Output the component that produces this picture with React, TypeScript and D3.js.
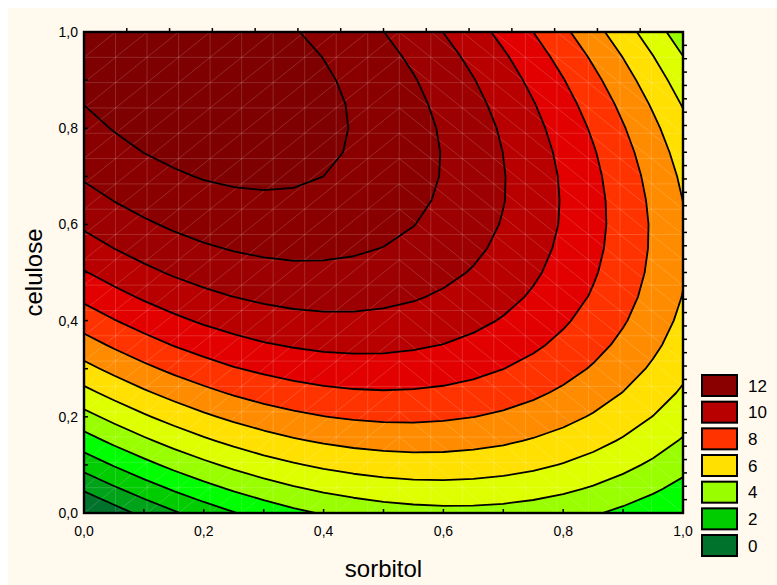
import React from "react";
import * as d3 from "d3";

// grid coordinates (sorbitol along x, celulose along y)
const sorbitol = [0, 0.05, 0.1, 0.15, 0.2, 0.25, 0.3, 0.35, 0.4, 0.45, 0.5, 0.55, 0.6, 0.65, 0.7, 0.75, 0.8, 0.85, 0.9, 0.95, 1];
const celulose = [0, 0.05, 0.1, 0.15, 0.2, 0.25, 0.3, 0.35, 0.4, 0.45, 0.5, 0.55, 0.6, 0.65, 0.7, 0.75, 0.8, 0.85, 0.9, 0.95, 1];

// response values, one row per celulose value (bottom row first)
const response: number[][] = [
  [-1.19, -0.44, 0.26, 0.88, 1.45, 1.95, 2.39, 2.77, 3.09, 3.34, 3.53, 3.65, 3.72, 3.72, 3.66, 3.53, 3.35, 3.10, 2.78, 2.41, 1.97],
  [0.13, 0.85, 1.51, 2.11, 2.65, 3.12, 3.53, 3.88, 4.16, 4.38, 4.54, 4.64, 4.67, 4.64, 4.55, 4.40, 4.18, 3.90, 3.56, 3.15, 2.68],
  [1.38, 2.07, 2.70, 3.27, 3.77, 4.22, 4.60, 4.91, 5.17, 5.36, 5.49, 5.56, 5.56, 5.50, 5.38, 5.20, 4.95, 4.64, 4.26, 3.83, 3.33],
  [2.56, 3.22, 3.82, 4.36, 4.84, 5.25, 5.60, 5.89, 6.11, 6.27, 6.37, 6.41, 6.38, 6.29, 6.14, 5.92, 5.65, 5.31, 4.90, 4.44, 3.91],
  [3.67, 4.30, 4.87, 5.38, 5.83, 6.21, 6.53, 6.79, 6.98, 7.11, 7.18, 7.19, 7.13, 7.01, 6.83, 6.59, 6.28, 5.91, 5.48, 4.98, 4.42],
  [4.72, 5.32, 5.86, 6.34, 6.75, 7.11, 7.40, 7.62, 7.79, 7.89, 7.93, 7.90, 7.82, 7.67, 7.46, 7.18, 6.84, 6.44, 5.98, 5.45, 4.87],
  [5.70, 6.27, 6.78, 7.23, 7.61, 7.94, 8.19, 8.39, 8.53, 8.60, 8.61, 8.55, 8.44, 8.26, 8.01, 7.71, 7.34, 6.91, 6.42, 5.86, 5.24],
  [6.61, 7.15, 7.63, 8.05, 8.40, 8.70, 8.93, 9.09, 9.20, 9.24, 9.22, 9.13, 8.99, 8.78, 8.50, 8.17, 7.77, 7.31, 6.79, 6.20, 5.55],
  [7.45, 7.96, 8.41, 8.80, 9.13, 9.39, 9.59, 9.73, 9.80, 9.81, 9.76, 9.65, 9.47, 9.23, 8.93, 8.56, 8.13, 7.64, 7.09, 6.47, 5.79],
  [8.23, 8.71, 9.13, 9.49, 9.78, 10.01, 10.18, 10.29, 10.34, 10.32, 10.23, 10.09, 9.88, 9.61, 9.28, 8.89, 8.43, 7.91, 7.32, 6.68, 5.97],
  [8.94, 9.39, 9.78, 10.11, 10.37, 10.57, 10.71, 10.79, 10.80, 10.75, 10.64, 10.47, 10.23, 9.93, 9.57, 9.14, 8.66, 8.10, 7.49, 6.81, 6.08],
  [9.58, 10.00, 10.36, 10.66, 10.89, 11.06, 11.17, 11.22, 11.20, 11.12, 10.98, 10.78, 10.51, 10.18, 9.79, 9.33, 8.81, 8.23, 7.59, 6.88, 6.11],
  [10.15, 10.54, 10.87, 11.14, 11.35, 11.49, 11.57, 11.58, 11.54, 11.43, 11.26, 11.02, 10.72, 10.36, 9.94, 9.46, 8.91, 8.30, 7.62, 6.89, 6.09],
  [10.66, 11.02, 11.32, 11.56, 11.73, 11.84, 11.89, 11.88, 11.80, 11.66, 11.46, 11.20, 10.87, 10.48, 10.03, 9.51, 8.93, 8.29, 7.59, 6.82, 5.99],
  [11.10, 11.43, 11.70, 11.90, 12.05, 12.13, 12.15, 12.11, 12.00, 11.83, 11.60, 11.30, 10.95, 10.53, 10.04, 9.50, 8.89, 8.22, 7.48, 6.69, 5.83],
  [11.47, 11.77, 12.01, 12.19, 12.30, 12.35, 12.34, 12.27, 12.13, 11.93, 11.67, 11.34, 10.96, 10.51, 9.99, 9.42, 8.78, 8.08, 7.31, 6.49, 5.60],
  [11.77, 12.04, 12.25, 12.40, 12.48, 12.51, 12.46, 12.36, 12.19, 11.96, 11.67, 11.32, 10.90, 10.42, 9.88, 9.27, 8.60, 7.87, 7.07, 6.22, 5.30],
  [12.01, 12.25, 12.43, 12.55, 12.60, 12.59, 12.52, 12.39, 12.19, 11.93, 11.61, 11.22, 10.77, 10.26, 9.69, 9.05, 8.36, 7.59, 6.77, 5.88, 4.93],
  [12.18, 12.39, 12.54, 12.62, 12.65, 12.61, 12.51, 12.34, 12.12, 11.83, 11.47, 11.06, 10.58, 10.04, 9.44, 8.77, 8.04, 7.25, 6.40, 5.48, 4.50],
  [12.28, 12.46, 12.58, 12.63, 12.63, 12.56, 12.43, 12.23, 11.98, 11.66, 11.27, 10.83, 10.32, 9.75, 9.12, 8.42, 7.66, 6.84, 5.96, 5.01, 4.00],
  [12.31, 12.46, 12.55, 12.58, 12.54, 12.44, 12.28, 12.06, 11.77, 11.42, 11.01, 10.53, 9.99, 9.39, 8.73, 8.00, 7.21, 6.36, 5.45, 4.47, 3.43],
];

const contourLevels = [0, 1, 2, 3, 4, 5, 6, 7, 8, 9, 10, 11, 12];
const legendValues = [12, 10, 8, 6, 4, 2, 0];
const axisTicks = [0, 0.2, 0.4, 0.6, 0.8, 1];
const axisTickLabels = ["0,0", "0,2", "0,4", "0,6", "0,8", "1,0"];
const minorTicks = [0.1, 0.2, 0.3, 0.4, 0.5, 0.6, 0.7, 0.8, 0.9];

// colour of each band: below level 0, between consecutive levels, above level 12
const bandColors = [
  "#00722C", "#00A21A", "#00CC00", "#00FF00", "#99FF00", "#DDFF00", "#FFE000",
  "#FF8C00", "#FF3300", "#E20000", "#B80000", "#9C0000", "#8A0000", "#7E0000",
];

const W = 777;
const H = 585;
const PL = 84, PR = 683, PT = 32, PB = 513;
const FONT = "'Liberation Sans', Arial, sans-serif";

export default function App() {
  const xs = d3.scaleLinear().domain([0, 1]).range([PL, PR]);
  const ys = d3.scaleLinear().domain([0, 1]).range([PB, PT]);
  const nx = sorbitol.length;
  const ny = celulose.length;
  // d3.contours places sample k at grid coordinate k + 0.5
  const gx = d3.scaleLinear().domain([0.5, nx - 0.5]).range([sorbitol[0], sorbitol[nx - 1]]);
  const gy = d3.scaleLinear().domain([0.5, ny - 0.5]).range([celulose[0], celulose[ny - 1]]);

  const flat = response.flat();
  const contours = d3.contours().size([nx, ny]).thresholds(contourLevels)(flat);
  const proj = d3.geoTransform({
    point(x: number, y: number) {
      (this as any).stream.point(xs(gx(x)), ys(gy(y)));
    },
  });
  const path = d3.geoPath(proj as any);

  // faint mesh seams of the surface rendering (19 x 19 cells)
  const meshN = 19;
  const mx = d3.scaleLinear().domain([0, meshN]).range([PL, PR]);
  const my = d3.scaleLinear().domain([0, meshN]).range([PT, PB]);
  let mesh = "";
  for (let k = 1; k < meshN; k++) {
    mesh += `M${mx(k)},${PT}V${PB}M${PL},${my(k)}H${PR}`;
  }
  for (let i = 0; i < meshN; i++) {
    for (let j = 0; j < meshN; j++) {
      if (i < 10) mesh += `M${mx(i)},${my(j + 1)}L${mx(i + 1)},${my(j)}`;
      else mesh += `M${mx(i)},${my(j)}L${mx(i + 1)},${my(j + 1)}`;
    }
  }

  const topTick = d3.scaleLinear().domain([0, 14]).range([PL, PR]);
  const rightTick = d3.scaleLinear().domain([0, 36]).range([PT, PB]);

  const legendY = d3.scaleLinear().domain([0, 1]).range([375, 375 + 26.67]);

  return (
    <svg
      width={W}
      height={H}
      style={{ position: "absolute", left: 0, top: 0, display: "block" }}
      fontFamily={FONT}
    >
      <rect x={0} y={0} width={W} height={H} fill="#ffffff" />
      <rect x={8} y={8} width={W - 8} height={H - 8} fill="#FFF9EE" />
      <defs>
        <clipPath id="plotClip">
          <rect x={PL} y={PT} width={PR - PL} height={PB - PT} />
        </clipPath>
      </defs>
      <g clipPath="url(#plotClip)">
        <rect x={PL} y={PT} width={PR - PL} height={PB - PT} fill={bandColors[0]} />
        {contours.map((c, k) => (
          <path key={"f" + k} d={path(c as any) || ""} fill={bandColors[k + 1]} stroke={bandColors[k + 1]} strokeWidth={0.5} />
        ))}
        <path d={mesh} stroke="#ffffff" strokeOpacity={0.18} strokeWidth={0.9} fill="none" />
        {contours.map((c, k) => (
          <path key={"l" + k} d={path(c as any) || ""} fill="none" stroke="#000" strokeWidth={1.8} strokeLinejoin="round" />
        ))}
      </g>
      {/* ticks */}
      <g stroke="#000" strokeWidth={1.5}>
        {minorTicks.map((v) => (
          <line key={"lt" + v} x1={PL} x2={PL + 4} y1={ys(v)} y2={ys(v)} />
        ))}
        {minorTicks.map((v) => (
          <line key={"bt" + v} x1={xs(v)} x2={xs(v)} y1={PB} y2={PB - 4} />
        ))}
        {d3.range(1, 14).map((k) => (
          <line key={"tt" + k} x1={topTick(k)} x2={topTick(k)} y1={PT} y2={PT - 4} />
        ))}
        {d3.range(1, 36).map((k) => (
          <line key={"rt" + k} x1={PR} x2={PR + 4} y1={rightTick(k)} y2={rightTick(k)} />
        ))}
      </g>
      <rect x={PL} y={PT} width={PR - PL} height={PB - PT} fill="none" stroke="#000" strokeWidth={2.4} />
      {/* tick labels */}
      {axisTicks.map((v, i) => (
        <text key={"yl" + i} x={78} y={ys(v) + 5} textAnchor="end" fontSize={14} fill="#000">
          {axisTickLabels[i]}
        </text>
      ))}
      {axisTicks.map((v, i) => (
        <text key={"xl" + i} x={xs(v)} y={536} textAnchor="middle" fontSize={14} fill="#000">
          {axisTickLabels[i]}
        </text>
      ))}
      <text x={(PL + PR) / 2} y={577} textAnchor="middle" fontSize={24} fill="#000">
        sorbitol
      </text>
      <text
        transform={`translate(42,${(PT + PB) / 2}) rotate(-90)`}
        textAnchor="middle"
        fontSize={24}
        fill="#000"
      >
        celulose
      </text>
      {/* legend */}
      {legendValues.map((v, i) => (
        <g key={"lg" + v}>
          <rect x={702} y={legendY(i)} width={35} height={21} fill={bandColors[v]} stroke="#000" strokeWidth={2} />
          <text x={748} y={legendY(i) + 16.5} fontSize={17} fill="#000">
            {v}
          </text>
        </g>
      ))}
    </svg>
  );
}
